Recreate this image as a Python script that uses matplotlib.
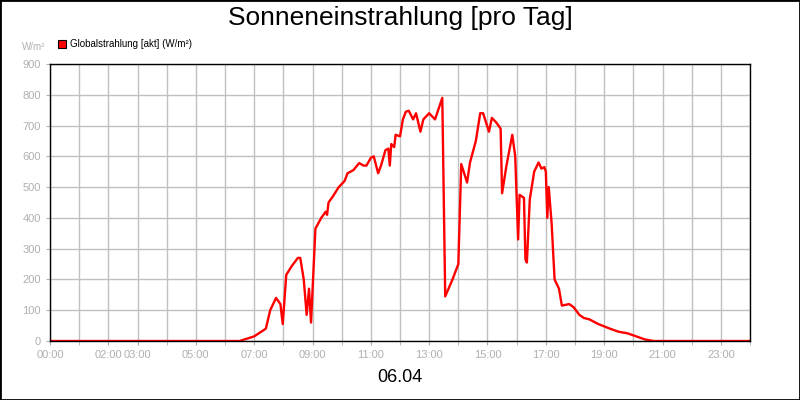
import matplotlib
matplotlib.use("Agg")
from matplotlib import pyplot as plt
from matplotlib.patches import Rectangle

plt.rcParams['font.family'] = ['Liberation Sans', 'DejaVu Sans']

# Tageszeit in Stunden, Globalstrahlung in W/m²
stunden = [0, 6.5, 7.0, 7.4, 7.55, 7.75, 7.9, 7.98, 8.1, 8.3, 8.5, 8.58, 8.7, 8.8, 8.88, 8.95,
           9.1, 9.3, 9.45, 9.5, 9.55, 9.7, 9.9, 10.1, 10.2, 10.4, 10.6, 10.75, 10.85, 11.0, 11.1,
           11.25, 11.35, 11.5, 11.6, 11.65, 11.7, 11.8, 11.85, 12.0, 12.1, 12.2, 12.3, 12.45,
           12.55, 12.7, 12.8, 13.0, 13.2, 13.45, 13.55, 13.8, 14.0, 14.1, 14.3, 14.4, 14.6, 14.75,
           14.85, 15.05, 15.15, 15.3, 15.45, 15.5, 15.65, 15.85, 15.95, 16.05, 16.1, 16.25, 16.3,
           16.35, 16.45, 16.6, 16.75, 16.85, 16.95, 17.0, 17.05, 17.1, 17.2, 17.3, 17.45, 17.55,
           17.8, 17.95, 18.15, 18.3, 18.5, 18.8, 19.2, 19.5, 19.8, 20.1, 20.4, 20.7, 24]
strahlung = [0, 0, 15, 40, 100, 140, 120, 55, 215, 245, 270, 270, 200, 85, 170, 60,
             365, 400, 420, 410, 450, 470, 500, 520, 545, 555, 578, 570, 570, 595, 600,
             545, 570, 620, 625, 570, 640, 630, 670, 665, 720, 745, 748, 720,
             740, 680, 720, 740, 720, 790, 145, 200, 250, 575, 515, 580, 650, 740,
             740, 680, 725, 710, 690, 480, 570, 670, 600, 330, 475, 465, 265,
             255, 460, 550, 580, 560, 565, 550, 400, 500, 380, 200, 170, 115,
             120, 110, 85, 75, 70, 55, 40, 30, 25, 15, 5, 0, 0]
tick_stunden = [0, 2, 3, 5, 7, 9, 11, 13, 15, 17, 19, 21, 23]

grau = "#b0b0b0"
fig = plt.figure(figsize=(8, 4), dpi=100)
fig.patches.append(Rectangle((0, 0), 1, 1, transform=fig.transFigure, fill=False,
                             edgecolor="black", linewidth=2))
ax = fig.add_axes([0.0625, 0.1475, 0.875, 0.6925])
ax.plot(stunden, strahlung, color="red", linewidth=1.7)
ax.set_xlim(0, 24)
ax.set_ylim(0, 900)
ax.set_yticks(range(0, 901, 100))
ax.set_xticks(range(0, 25), minor=True)
ax.set_xticks(tick_stunden)
ax.set_xticklabels(["%02d:00" % h for h in tick_stunden])
ax.grid(True, which="both", color="#c0c0c0", linewidth=1)
ax.tick_params(labelsize=8, labelcolor=grau, color=grau, length=3, which="both")
for s in ax.spines.values():
    s.set_linewidth(1)

fig.text(0.5, 0.955, "Sonneneinstrahlung [pro Tag]", ha="center", va="center", fontsize=19)
fig.text(0.5, 0.055, "06.04", ha="center", va="center", fontsize=13)
fig.text(0.028, 0.882, "W/m²", fontsize=7, color=grau, va="center")
fig.patches.append(Rectangle((0.073, 0.879), 0.01, 0.02, transform=fig.transFigure,
                             facecolor="red", edgecolor="black", linewidth=0.8))
fig.text(0.087, 0.89, "Globalstrahlung [akt] (W/m²)", fontsize=7, va="center")

fig.savefig("out.png")
